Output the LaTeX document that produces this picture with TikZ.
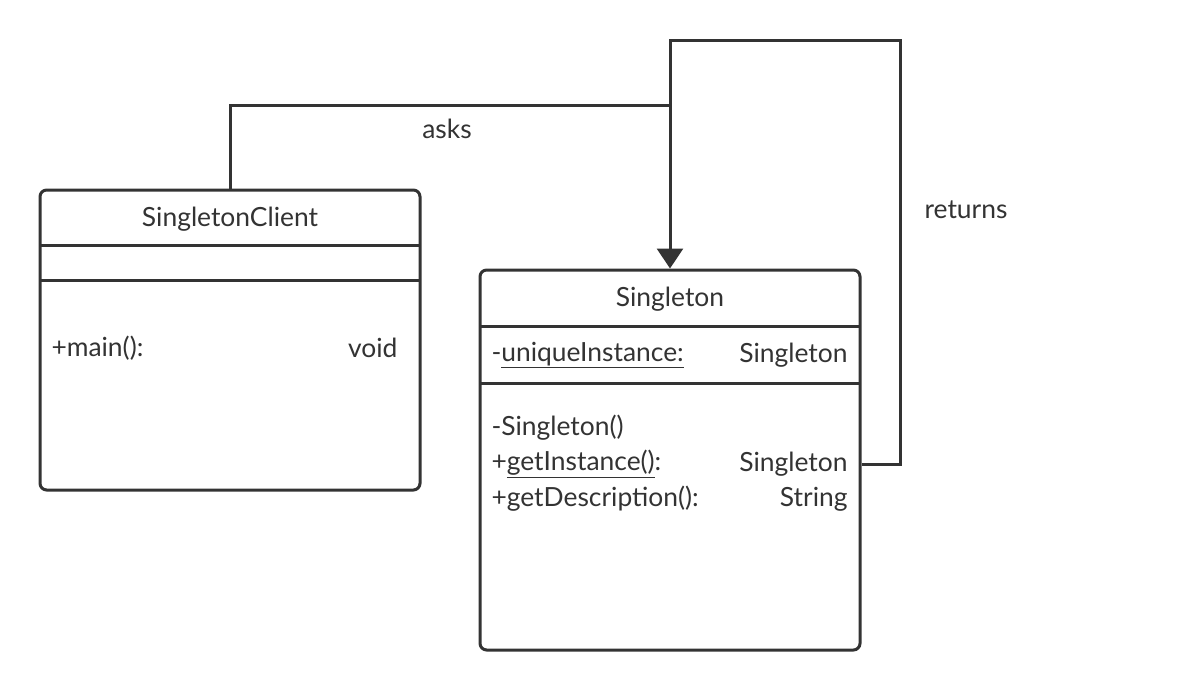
\documentclass[tikz,border=0pt]{standalone}
\usepackage{fontspec}
\setmainfont{Lato}
\usetikzlibrary{arrows.meta}
\definecolor{umlgray}{RGB}{51,51,51}
\tikzset{every picture/.style={line width=2.25pt}}
\tikzset{
  classbox/.style={draw=umlgray, rounded corners=5pt, minimum width=285pt, inner sep=0pt},
  umltext/.style={inner sep=0pt, text=umlgray, font=\fontsize{19.8}{24}\selectfont},
  connector/.style={draw=umlgray},
}

\begin{document}
\begin{tikzpicture}[x=0.75pt,y=0.75pt,yscale=-1,xscale=1]
\useasboundingbox (0,0) rectangle (1180,690);

% SingletonClient
\node (client) [classbox, minimum height=225pt] at (230,340) {};
\draw [umlgray] (40,245) -- (420,245) ;
\draw [umlgray] (40,280) -- (420,280) ;
\draw (230,219) node (clientname) [umltext] {SingletonClient};
\draw (50,348) node (mainop) [umltext, anchor=west] {+main():};
\draw (399,348) node (maintype) [umltext, anchor=east] {void};

% Singleton
\node (single) [classbox, minimum height=285pt] at (670,460) {};
\draw [umlgray] (480,326) -- (860,326) ;
\draw [umlgray] (480,383) -- (860,383) ;
\draw (670,299) node (singlename) [umltext] {Singleton};
\draw (490,355) node (attr) [umltext, anchor=west] {-\underline{uniqueInstance:}};
\draw (849,355) node (attrtype) [umltext, anchor=east] {Singleton};
\draw (490,428) node (ctor) [umltext, anchor=west] {-Singleton()};
\draw (490,464) node (giop) [umltext, anchor=west] {+\underline{getInstance()}:};
\draw (849,464) node (gitype) [umltext, anchor=east] {Singleton};
\draw (490,499) node (descop) [umltext, anchor=west] {+getDescription():};
\draw (849,499) node (desctype) [umltext, anchor=east] {String};

% connectors
\coordinate (join) at (670,105);
\coordinate (rtop) at (900,40);
\draw [connector] (client.north) |- (join) ;
\draw [connector, -{Triangle[width=19.5pt,length=15pt]}] (single.east |- gitype) -| (rtop) -| (single.north) ;

\draw (447,129) node (asks) [umltext] {asks};
\draw (966,210) node (returns) [umltext] {returns};

\end{tikzpicture}
\end{document}
